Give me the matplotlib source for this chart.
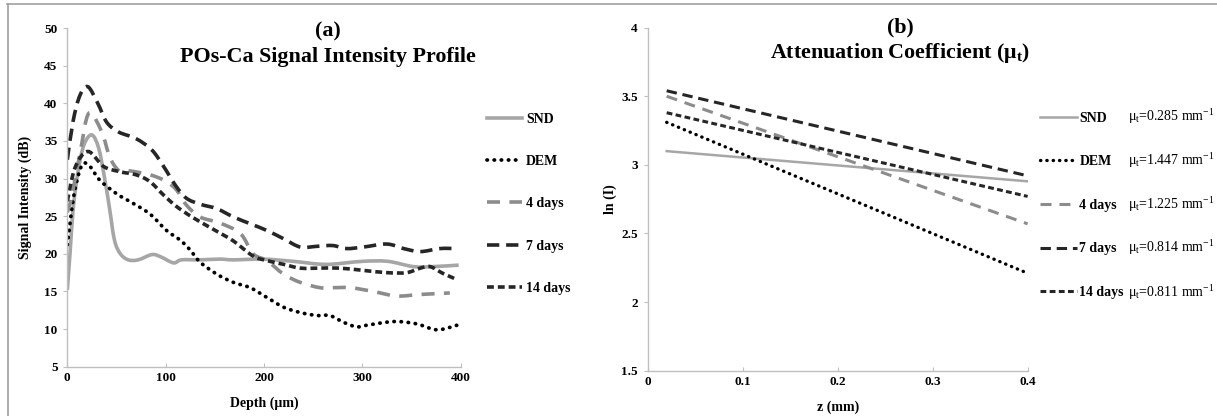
import matplotlib.pyplot as plt
from matplotlib.lines import Line2D
from matplotlib.path import Path
from matplotlib.patches import PathPatch

plt.rcParams["font.family"] = ["Liberation Serif", "DejaVu Serif"]
plt.rcParams["mathtext.fontset"] = "custom"
plt.rcParams["mathtext.rm"] = "Liberation Serif"
plt.rcParams["mathtext.bf"] = "Liberation Serif:bold"
plt.rcParams["mathtext.it"] = "Liberation Serif:italic"

# ---- panel (a): signal intensity profiles
snd_x = [0, 3, 6, 11, 17, 25, 32, 38, 43, 48, 54, 62, 72, 86, 95, 108, 116, 135, 155,
         169, 199, 230, 263, 300, 326, 352, 372, 398]
snd_y = [15.2, 20.5, 26, 31, 34.5, 35.8, 34, 30, 26, 21.8, 20, 19.2, 19.2, 19.9, 19.6,
         18.8, 19.2, 19.2, 19.3, 19.2, 19.3, 19.0, 18.6, 19.0, 19.0, 18.3, 18.3, 18.5]

dem_x = [0, 7, 15, 23, 33, 50, 67, 84, 101, 115, 125, 135, 152, 169, 186, 203, 220,
         237, 254, 267, 281, 294, 304, 332, 355, 376, 396]
dem_y = [21.2, 28, 31.8, 31.6, 29.8, 28, 26.7, 25.3, 23.1, 21.8, 20.5, 18.9, 17.3, 16.2,
         15.5, 14.2, 12.9, 12.2, 11.8, 11.8, 10.9, 10.3, 10.5, 11.0, 10.7, 9.9, 10.5]

d4_x = [0, 4.5, 13, 22, 35, 43, 52, 60, 81, 91, 101, 111, 121, 135, 155, 176, 189,
        203, 220, 237, 257, 270, 288, 311, 335, 359, 389]
d4_y = [25.5, 27.6, 33.4, 38.7, 36.2, 32.9, 31.1, 31.1, 30.6, 30.2, 29.6, 28.5, 26.5,
        24.9, 24.1, 22.7, 20.0, 19.1, 17.3, 16.2, 15.5, 15.5, 15.5, 15.0, 14.4, 14.6, 14.8]

d7_x = [0, 6, 13, 21, 31, 40, 52, 70, 86, 98, 110, 121, 135, 152, 169, 186, 203, 220,
        237, 254, 270, 284, 301, 325, 342, 359, 379, 396]
d7_y = [32.5, 37.7, 41.1, 42.2, 40, 37.5, 36.2, 35.3, 33.8, 31.6, 29.1, 27.4, 26.6, 26.0,
        24.9, 24.0, 23.1, 22.0, 20.9, 21.0, 21.1, 20.7, 20.9, 21.3, 20.7, 20.3, 20.7, 20.7]

d14_x = [0, 8, 21, 37, 54, 70, 84, 98, 111, 128, 152, 169, 189, 203, 220, 237, 257,
         277, 301, 325, 345, 359, 369, 382, 396]
d14_y = [27, 31.5, 33.6, 31.6, 30.9, 30.5, 29.6, 27.8, 26.3, 24.8, 23.0, 21.7, 19.7,
         19.1, 18.6, 18.1, 18.1, 18.1, 17.8, 17.5, 17.5, 18.1, 18.3, 17.4, 16.6]

# ---- panel (b): fitted ln(I) lines, end points
z_ends = [0.02, 0.4]
snd_ln = [3.10, 2.88]
dem_ln = [3.31, 2.21]
d4_ln = [3.50, 2.57]
d7_ln = [3.54, 2.92]
d14_ln = [3.38, 2.77]
mu_labels = ["0.285", "1.447", "1.225", "0.814", "0.811"]

names = ["SND", "DEM", "4 days", "7 days", "14 days"]
colors = ["#a6a6a6", "black", "#8c8c8c", "#262626", "#262626"]
dashes = ["-", (0, (0.1, 1.8)), (0, (3.6, 2.6)), (0, (3.4, 1.9)), (0, (1.9, 1.1))]


def smooth_line(ax, xs, ys, color, ls, lw):
    # Excel-style smoothed line: Catmull-Rom segments drawn as cubic Bezier
    n = len(xs)
    verts = [(xs[0], ys[0])]
    codes = [Path.MOVETO]
    for i in range(n - 1):
        x0, y0 = (xs[i - 1], ys[i - 1]) if i > 0 else (xs[i], ys[i])
        x3, y3 = (xs[i + 2], ys[i + 2]) if i + 2 < n else (xs[i + 1], ys[i + 1])
        c1 = (xs[i] + (xs[i + 1] - x0) / 6, ys[i] + (ys[i + 1] - y0) / 6)
        c2 = (xs[i + 1] - (x3 - xs[i]) / 6, ys[i + 1] - (y3 - ys[i]) / 6)
        verts += [c1, c2, (xs[i + 1], ys[i + 1])]
        codes += [Path.CURVE4] * 3
    patch = PathPatch(Path(verts, codes), fill=False, edgecolor=color, lw=lw,
                      linestyle=ls, capstyle="round" if ls != "-" and ls[1][0] < 1 else "butt")
    ax.add_patch(patch)


fig = plt.figure(figsize=(12.17, 4.16), dpi=100)

# frame lines of the original picture
fig.add_artist(Line2D([0.006, 1], [0.99, 0.99], color="#a0a0a0", lw=1.2))
fig.add_artist(Line2D([0.0066, 0.0066], [0, 0.99], color="#a0a0a0", lw=1.2))


def style_axes(ax):
    for s in ["top", "right"]:
        ax.spines[s].set_visible(False)
    for s in ["left", "bottom"]:
        ax.spines[s].set_color("#bfbfbf")
        ax.spines[s].set_linewidth(1)
    ax.tick_params(length=3, color="#bfbfbf", labelsize=9.5, pad=4)
    ax.tick_params(axis="x", direction="in")
    for lab in ax.get_xticklabels() + ax.get_yticklabels():
        lab.set_fontweight("bold")


# ---------------- panel (a)
ax1 = fig.add_axes([0.0553, 0.1185, 0.3232, 0.814])
series_a = [(snd_x, snd_y), (dem_x, dem_y), (d4_x, d4_y), (d7_x, d7_y), (d14_x, d14_y)]
handles_a = []
for (xs, ys), name, c, ls in zip(series_a, names, colors, dashes):
    lw = 2.7 if name == "DEM" else 2.6
    smooth_line(ax1, xs, ys, c, ls, lw)
    handles_a.append(Line2D([], [], color=c, linestyle=ls, lw=lw,
                            dash_capstyle="round" if name == "DEM" else "butt"))
ax1.set_xlim(0, 400)
ax1.set_ylim(5, 50)
ax1.set_xticks([0, 100, 200, 300, 400])
ax1.set_yticks(range(5, 51, 5))
style_axes(ax1)
ax1.set_xlabel("Depth (µm)", fontsize=10, fontweight="bold", labelpad=9)
ax1.set_ylabel("Signal Intensity (dB)", fontsize=10, fontweight="bold", labelpad=9)
ax1.text(0.663, 0.99, "(a)", transform=ax1.transAxes, ha="center", va="center",
         fontsize=15.8, fontweight="bold")
ax1.text(0.663, 0.915, "POs-Ca Signal Intensity Profile", transform=ax1.transAxes,
         ha="center", va="center", fontsize=15.8, fontweight="bold")
ax1.legend(handles_a, names, loc="upper left", bbox_to_anchor=(1.068, 0.75),
           frameon=False, handlelength=2.5, handletextpad=0.3, labelspacing=2.11,
           prop=dict(size=10, weight="bold"), borderpad=0, borderaxespad=0)

# ---------------- panel (b)
ax2 = fig.add_axes([0.5322, 0.109, 0.3122, 0.8245])
series_b = [snd_ln, dem_ln, d4_ln, d7_ln, d14_ln]
handles_b = []
for ys, name, c, ls in zip(series_b, names, colors, dashes):
    lw = {"SND": 1.8, "DEM": 2.4}.get(name, 2.2)
    handles_b += ax2.plot(z_ends, ys, lw=lw, color=c, linestyle=ls,
                          dash_capstyle="round" if name == "DEM" else "butt")
ax2.set_xlim(0, 0.4)
ax2.set_ylim(1.5, 4)
ax2.set_xticks([0, 0.1, 0.2, 0.3, 0.4])
ax2.set_xticklabels(["0", "0.1", "0.2", "0.3", "0.4"])
ax2.set_yticks([1.5, 2, 2.5, 3, 3.5, 4])
ax2.set_yticklabels(["1.5", "2", "2.5", "3", "3.5", "4"])
style_axes(ax2)
ax2.set_xlabel("z (mm)", fontsize=10, fontweight="bold", labelpad=9)
ax2.set_ylabel("ln (I)", fontsize=10, fontweight="bold", labelpad=3)
ax2.text(0.664, 1.0, "(b)", transform=ax2.transAxes, ha="center", va="center",
         fontsize=15.8, fontweight="bold")
ax2.text(0.664, 0.927, r"Attenuation Coefficient (μ$_\mathbf{t}$)", transform=ax2.transAxes,
         ha="center", va="center", fontsize=15.8, fontweight="bold")
ax2.legend(handles_b, names, loc="upper left", bbox_to_anchor=(1.032, 0.755),
           frameon=False, handlelength=2.65, handletextpad=0.2, labelspacing=2.2,
           prop=dict(size=10, weight="bold"), borderpad=0, borderaxespad=0)

mu_y = [0.740, 0.611, 0.483, 0.358, 0.227]
for yy, mu in zip(mu_y, mu_labels):
    ax2.text(1.265, yy - 0.011, "μ$_\\mathrm{t}$=" + mu + " mm$^{-1}$",
             transform=ax2.transAxes, ha="left", va="baseline", fontsize=10)

fig.savefig("out.png", dpi=100)
